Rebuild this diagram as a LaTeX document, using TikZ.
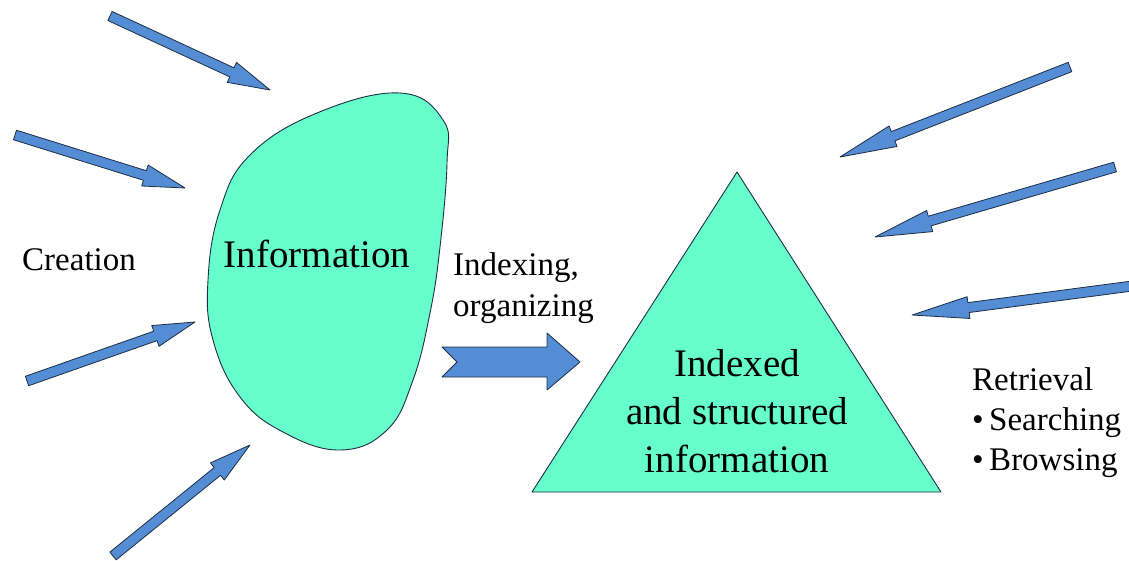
\documentclass[tikz,border=0pt]{standalone}
\usepackage{fontspec}
\setmainfont{Liberation Serif}
\usetikzlibrary{positioning,calc}

\definecolor{infogreen}{RGB}{102,255,204}
\definecolor{arrowblue}{RGB}{84,141,212}
\definecolor{arrowline}{RGB}{30,45,70}

% thin block arrow from #1 (tail) to #2 (tip), head length #3
\newcommand{\feedarrow}[3]{%
  \coordinate (hb) at ($(#2)!#3!(#1)$);
  \filldraw[fill=arrowblue, draw=arrowline, line width=0.8pt, line join=round]
    ($(#1)!5pt!90:(#2)$) -- ($(hb)!5pt!90:(#2)$) -- ($(hb)!11pt!90:(#2)$) -- (#2)
    -- ($(hb)!11pt!-90:(#2)$) -- ($(hb)!5pt!-90:(#2)$) -- ($(#1)!5pt!-90:(#2)$) -- cycle;}

\begin{document}
\begin{tikzpicture}[
        x=1pt, y=-1pt,
        infoshape/.style={fill=infogreen, draw=arrowline, line width=0.9pt},
        small/.style={inner sep=0pt, align=left, font=\fontsize{33}{40}\selectfont},
        big/.style={inner sep=0pt, align=center, font=\fontsize{39}{48}\selectfont}
        ]
        \useasboundingbox (0,0) rectangle (1129,561);

        % Define the shapes
        \filldraw[infoshape] plot[smooth cycle, tension=0.7] coordinates {
          (400,93) (443,120) (447,163) (440,247) (430,313) (413,380) (387,430)
          (340,450) (283,432) (240,397) (213,340) (208,280) (220,210) (250,155) (317,113)};
        \filldraw[infoshape, line join=round] (737,172) -- (941,492) -- (532,492) -- cycle;

        % Define the nodes (base = last line)
        \node (info) [big, anchor=base] at (317,268) {Information};
        \node (creation) [small, anchor=base west] at (22,270) {Creation};
        \node (indexing) [small, anchor=base west] at (453,316) {Indexing,\\organizing};
        \node (indexed) [big, anchor=base] at (737,472) {Indexed\\and structured\\information};
        \node (retrieval) [small, anchor=base west] at (972,470) {Retrieval\\%
          \textbullet\,Searching\\\textbullet\,Browsing};

        % Draw the big arrow
        \filldraw[fill=arrowblue, draw=arrowline, line width=0.8pt, line join=round]
          (442,347) -- (547,347) -- (547,333) -- (580,362) -- (547,390)
          -- (547,377) -- (442,377) -- (457,362) -- cycle;

        % Draw the arrows
        \coordinate (c1) at (110,16);  \coordinate (i1) at (270,90);
        \coordinate (c2) at (15,135);  \coordinate (i2) at (185,188);
        \coordinate (c3) at (27,381);  \coordinate (i3) at (195,322);
        \coordinate (c4) at (113,556); \coordinate (i4) at (250,445);
        \coordinate (r1) at (1070,67); \coordinate (t1) at (840,157);
        \coordinate (r2) at (1115,167);\coordinate (t2) at (875,237);
        \coordinate (r3) at (1140,285);\coordinate (t3) at (912,315);
        \feedarrow{c1}{i1}{42pt}
        \feedarrow{c2}{i2}{42pt}
        \feedarrow{c3}{i3}{42pt}
        \feedarrow{c4}{i4}{42pt}
        \feedarrow{r1}{t1}{57pt}
        \feedarrow{r2}{t2}{57pt}
        \feedarrow{r3}{t3}{57pt}
    \end{tikzpicture}
\end{document}
